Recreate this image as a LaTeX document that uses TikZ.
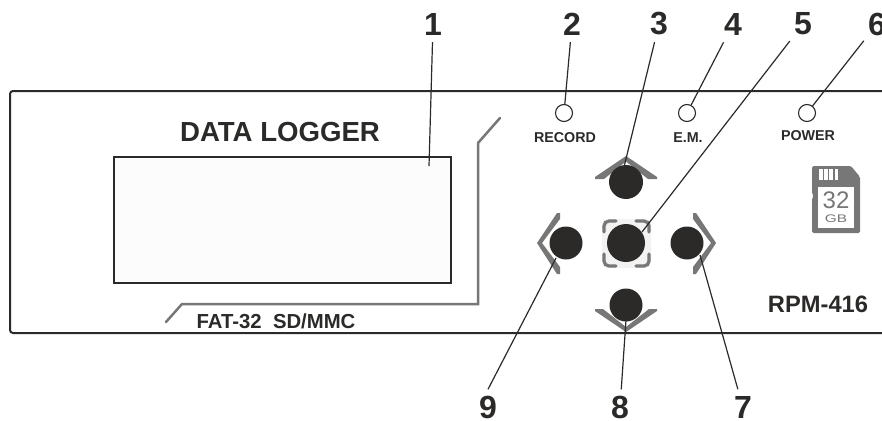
\documentclass[tikz,border=0pt]{standalone}
\usepackage{fontspec}
\setmainfont{Liberation Sans}
\definecolor{ink}{HTML}{2B2A29}
\definecolor{trim}{HTML}{777777}
\tikzset{
  num/.style={font=\fontsize{32}{32}\selectfont\bfseries,text=ink,inner sep=0pt,minimum width=26pt,minimum height=36pt},
  caption/.style={font=\fontsize{14.3}{14.3}\selectfont\bfseries,text=ink,inner sep=0pt},
  leader/.style={ink,line width=1.2pt},
  led/.style={circle,draw=ink,line width=1.1pt,fill=white,minimum size=17pt,inner sep=0pt},
  knob/.style={circle,fill=ink,inner sep=0pt},
  bracket/.style={trim,line width=3.2pt,line cap=round,rounded corners=5pt},
}
\begin{document}
\begin{tikzpicture}[x=1pt,y=-1pt]
\useasboundingbox (0,0) rectangle (882,420);
% panel
\draw[ink,line width=2pt,rounded corners=3pt] (882,91)--(10,91)--(10,333)--(882,333);
\node[rectangle,draw=ink,line width=1.7pt,fill=black!1,minimum width=337pt,minimum height=126pt,inner sep=0pt] (screen) at (282.5,220) {};
\node[font=\fontsize{27.6}{28}\selectfont\bfseries,text=ink,inner sep=0pt] (title) at (280,132) {DATA LOGGER};
% card slot
\draw[trim,line width=2.5pt,line cap=round] (500,118)--(478,143)--(478,304)--(182,304)--(166,322);
\node[font=\fontsize{20.3}{20}\selectfont\bfseries,text=ink,inner sep=0pt] (slot) at (276,321) {FAT-32\ \ SD/MMC};
% leds
\node[led] (record) at (564,113) {};
\node[led] (em) at (687,113) {};
\node[led] (power) at (807,113) {};
\node[caption] (recordtxt) at (565,138) {RECORD};
\node[caption] (emtxt) at (688,138) {E.M.};
\node[caption] (powertxt) at (808,136) {POWER};
% arrows round the keys
\fill[trim] (595,177)--(626,156)--(657,177)--(657,179)--(648,179)--(626,161.5)--(604,179)--(595,179)--cycle;
\fill[trim] (595,311)--(626,332)--(657,311)--(657,309)--(649,309)--(626,327)--(603,309)--(595,309)--cycle;
\fill[trim] (537,243)--(557,213)--(560,213)--(560,219)--(542,243)--(560,267)--(560,274)--(557,274)--cycle;
\fill[trim] (716,243)--(696,213)--(693,213)--(693,219)--(711,243)--(693,267)--(693,274)--(696,274)--cycle;
\fill[black!5,rounded corners=5pt] (602,219) rectangle (651,268);
\draw[bracket] (604,232)--(604,221)--(616,221);
\draw[bracket] (636,221)--(649,221)--(649,232);
\draw[bracket] (649,254)--(649,266)--(636,266);
\draw[bracket] (616,266)--(604,266)--(604,254);
% keys
\node[knob,minimum size=34pt] (keyup) at (626,182) {};
\node[knob,minimum size=38pt] (keymid) at (626,243) {};
\node[knob,minimum size=33pt] (keyleft) at (566,243) {};
\node[knob,minimum size=33pt] (keyright) at (687,243) {};
\node[knob,minimum size=33pt] (keydown) at (626,305) {};
% sd card
\fill[trim,rounded corners=1.5pt] (812,166)--(851,166)--(860,177)--(860,233)--(812,233)--(812,198)--(814,196)--(812,194)--cycle;
\fill[white] (818,187) rectangle (854,228);
\foreach \xa in {819,824.2,829.4,834.6} \fill[white] (\xa,169) rectangle ++(3.6,10.5);
\node[font=\fontsize{24}{24}\selectfont,text=trim,inner sep=0pt] (cardsize) at (836,200.5) {32};
\node[font=\fontsize{11}{11}\selectfont,text=trim,inner sep=0pt,xscale=1.4] (cardunit) at (836,218.5) {GB};
\node[font=\fontsize{23.7}{24}\selectfont\bfseries,text=ink,inner sep=0pt] (model) at (818,304) {RPM-416};
% numbers
\node[num] (n1) at (433,24) {1};
\node[num] (n2) at (572,24) {2};
\node[num] (n3) at (659,24) {3};
\node[num] (n4) at (733,24) {4};
\node[num] (n5) at (803,24) {5};
\node[num] (n6) at (877,24) {6};
\node[num] (n7) at (743,407.5) {7};
\node[num] (n8) at (620,407.5) {8};
\node[num] (n9) at (488,407.5) {9};
\coordinate (t1) at (429,166);
\coordinate (t3) at (624,167);
\coordinate (t5) at (642,232);
\coordinate (t7) at (700,255);
\coordinate (t8) at (626,320);
\coordinate (t9) at (556,258);
\draw[leader] (n1)--(t1);
\draw[leader] (n2)--(record);
\draw[leader] (n3)--(t3);
\draw[leader] (n4)--(em);
\draw[leader] (n5)--(t5);
\draw[leader] (n6)--(power);
\draw[leader] (n7)--(t7);
\draw[leader] (n8)--(t8);
\draw[leader] (n9.north)--(t9);
\end{tikzpicture}
\end{document}
